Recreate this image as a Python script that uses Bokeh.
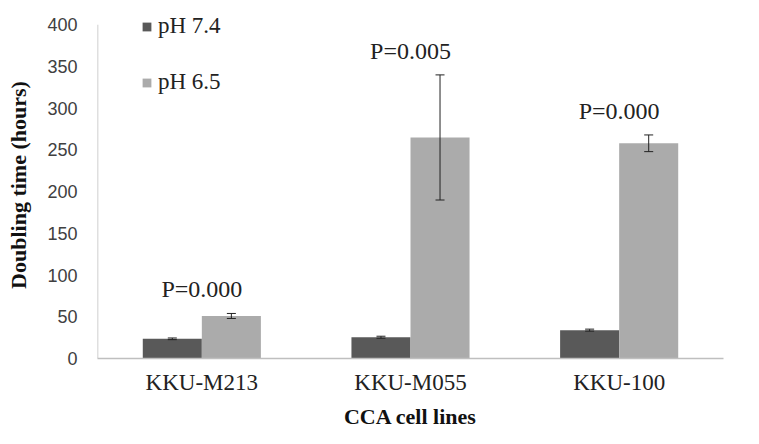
from bokeh.plotting import figure
from bokeh.models import (ColumnDataSource, FactorRange, Range1d, FixedTicker, Whisker,
                          TeeHead, Legend, LegendItem, LabelSet)
from bokeh.transform import dodge
from bokeh.embed import file_html
from bokeh.resources import INLINE

# ---- data ----
cells = ["KKU-M213", "KKU-M055", "KKU-100"]
ph74 = [23.6, 25.5, 34.0]
ph74_err = [1.0, 1.2, 1.2]
ph65 = [51.0, 265.0, 258.0]
ph65_err = [3.0, 75.0, 10.0]
p_values = ["P=0.000", "P=0.005", "P=0.000"]
y_ticks = [0, 50, 100, 150, 200, 250, 300, 350, 400]
series_names = ["pH 7.4", "pH 6.5"]

DARK = "#595959"
LIGHT = "#ababab"
AXIS = "#bfbfbf"
SERIF = "Liberation Serif"

src = ColumnDataSource(dict(
    cell=cells,
    a=ph74, a_lo=[v - e for v, e in zip(ph74, ph74_err)], a_hi=[v + e for v, e in zip(ph74, ph74_err)],
    b=ph65, b_lo=[v - e for v, e in zip(ph65, ph65_err)], b_hi=[v + e for v, e in zip(ph65, ph65_err)],
    ptxt=p_values,
))

W, H = 759, 444
# a little head-room above the top tick so the legend is not clipped
p = figure(width=W, height=H, output_backend="svg", toolbar_location=None,
           x_range=FactorRange(factors=cells, range_padding=0), y_range=Range1d(0, 416),
           min_border_left=97, min_border_right=36, min_border_top=11, min_border_bottom=86)
p.outline_line_color = None
p.xgrid.grid_line_color = None
p.ygrid.grid_line_color = None

# y-axis line drawn only up to the top tick
p.segment(x0=[0], y0=[y_ticks[0]], x1=[0], y1=[y_ticks[-1]], line_color=AXIS, line_width=1.5)

bw = 0.283
r1 = p.vbar(x=dodge("cell", -bw / 2, range=p.x_range), top="a", width=bw, source=src,
            fill_color=DARK, line_color=None)
r2 = p.vbar(x=dodge("cell", bw / 2, range=p.x_range), top="b", width=bw, source=src,
            fill_color=LIGHT, line_color=None)

for off, lo, hi in [(-bw / 2, "a_lo", "a_hi"), (bw / 2, "b_lo", "b_hi")]:
    w = Whisker(base=dodge("cell", off, range=p.x_range), lower=lo, upper=hi, source=src,
                line_color="#222222", line_width=1, level="overlay",
                upper_head=TeeHead(size=9, line_color="#222222", line_width=1),
                lower_head=TeeHead(size=9, line_color="#222222", line_width=1))
    p.add_layout(w)

labels = LabelSet(x="cell", y="b_hi", text="ptxt", source=src, text_align="center",
                  text_baseline="middle", y_offset=24, text_font=SERIF,
                  text_font_size="24px", text_color="#222222")
p.add_layout(labels)

# axes
p.yaxis.ticker = FixedTicker(ticks=y_ticks)
p.yaxis.major_tick_line_color = None
p.yaxis.minor_tick_line_color = None
p.yaxis.major_tick_out = 0
p.yaxis.major_label_standoff = 20
p.yaxis.major_label_text_font = "Liberation Sans"
p.yaxis.major_label_text_font_size = "18px"
p.yaxis.major_label_text_color = "#404040"
p.yaxis.axis_line_color = None
p.yaxis.axis_label = "Doubling time (hours)"
p.yaxis.axis_label_text_font = SERIF
p.yaxis.axis_label_text_font_style = "bold"
p.yaxis.axis_label_text_font_size = "22px"
p.yaxis.axis_label_text_color = "#111111"
p.yaxis.axis_label_standoff = 13

p.xaxis.major_tick_line_color = None
p.xaxis.minor_tick_line_color = None
p.xaxis.major_tick_out = 0
p.xaxis.major_label_standoff = 11
p.xaxis.major_label_text_font = SERIF
p.xaxis.major_label_text_font_size = "23px"
p.xaxis.major_label_text_color = "#222222"
p.xaxis.axis_line_color = AXIS
p.xaxis.axis_line_width = 1.5
p.xaxis.axis_label = "CCA cell lines"
p.xaxis.axis_label_text_font = SERIF
p.xaxis.axis_label_text_font_style = "bold"
p.xaxis.axis_label_text_font_size = "22px"
p.xaxis.axis_label_text_color = "#111111"
p.xaxis.axis_label_standoff = 6

# one legend per series so each row can be placed on its own
for name, rend, ybot in [(series_names[0], r1, 319), (series_names[1], r2, 263)]:
    lg = Legend(items=[LegendItem(label=name, renderers=[rend])],
                location=(44, ybot), orientation="vertical",
                glyph_width=11, glyph_height=11, label_height=20,
                label_standoff=6, padding=0, margin=0,
                border_line_color=None, background_fill_alpha=0,
                label_text_font=SERIF, label_text_font_size="23px",
                label_text_color="#222222")
    p.add_layout(lg)

open("out.html", "w").write(file_html(p, INLINE))
